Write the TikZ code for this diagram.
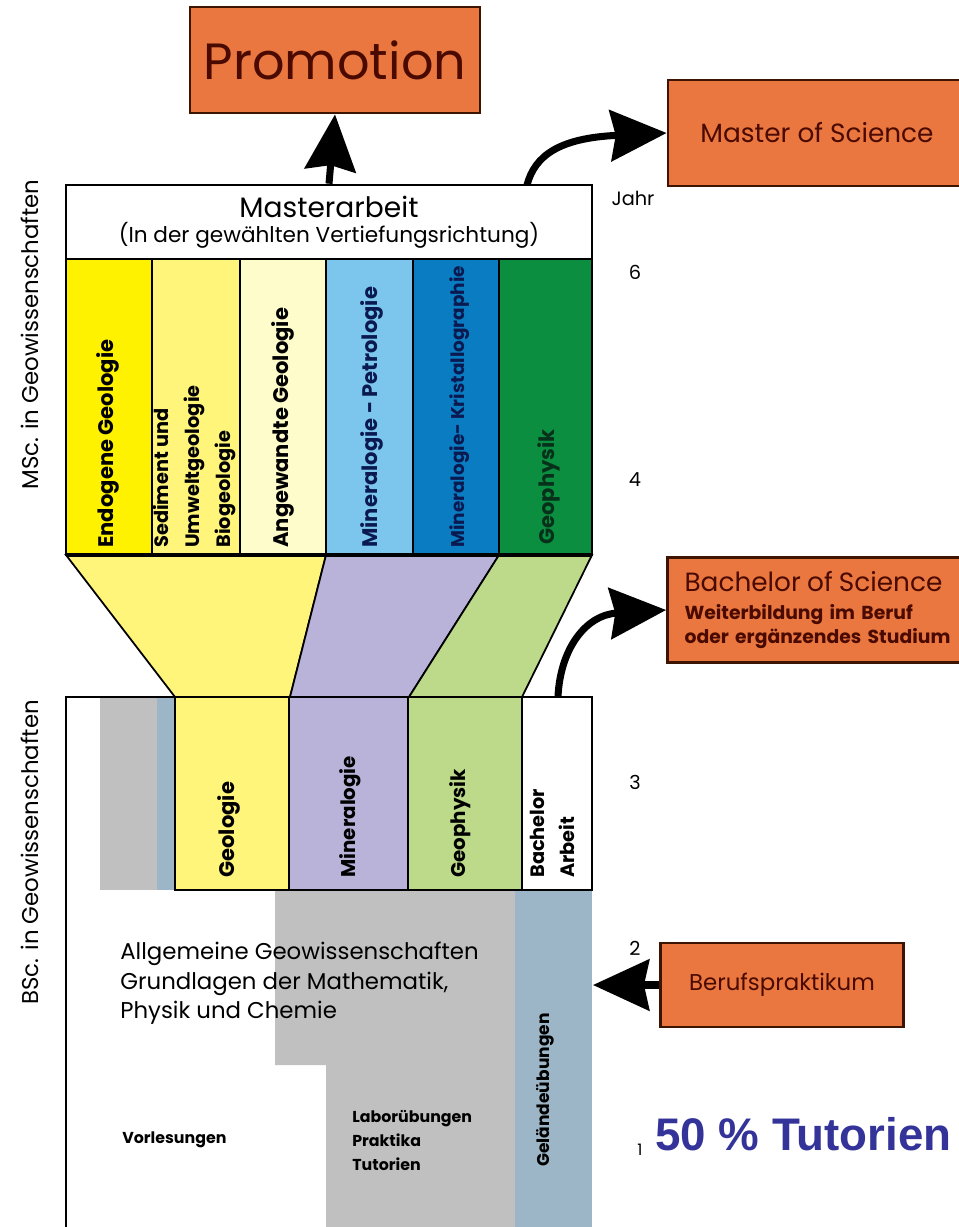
\documentclass[tikz,border=0pt]{standalone}
\usepackage{fontspec}
\setmainfont{Poppins}
\newfontfamily\tutfont{Liberation Sans}
\usetikzlibrary{positioning, arrows.meta, calc}

\definecolor{boxorange}{HTML}{E9773F}
\definecolor{boxborder}{HTML}{3C1400}
\definecolor{boxtext}{HTML}{4B0A00}
\definecolor{endoyellow}{HTML}{FFF200}
\definecolor{sedyellow}{HTML}{FFF57A}
\definecolor{paleyellow}{HTML}{FFFCCB}
\definecolor{lightblue}{HTML}{7CC6EE}
\definecolor{midblue}{HTML}{0A7CC1}
\definecolor{darkgreen}{HTML}{0B8E3F}
\definecolor{funnelpurple}{HTML}{BAB3D9}
\definecolor{funnelgreen}{HTML}{BDDA8A}
\definecolor{stripgray}{HTML}{C0C0C0}
\definecolor{stripblue}{HTML}{9DB6C7}
\definecolor{labelnavy}{HTML}{0A1A50}
\definecolor{labelgreen}{HTML}{06301A}
\definecolor{tutblue}{HTML}{333399}

\begin{document}
\begin{tikzpicture}[
    x=0.02cm, y=-0.02cm,
    orangebox/.style={draw=boxborder, fill=boxorange, line width=1.6pt, text=boxtext, inner sep=0pt},
    column/.style={draw=black, line width=1.2pt},
    funnel/.style={draw=black, line width=1pt},
    bigarrow/.style={line width=4pt, -{Stealth[length=32pt, width=29pt, inset=3pt]}},
    vlabel/.style={rotate=90, anchor=west, inner sep=0pt, font=\fontsize{12}{13}\selectfont\bfseries},
    vblock/.style={rotate=90, anchor=north west, inner sep=0pt, align=left},
    sidelabel/.style={rotate=90, anchor=west, inner sep=0pt, font=\fontsize{13}{14}\selectfont},
    yearlabel/.style={inner sep=0pt, font=\fontsize{11}{12}\selectfont},
    smalltext/.style={inner sep=0pt, font=\fontsize{9}{13.6}\selectfont\bfseries}
]

% Page
\fill[white] (0,0) rectangle (959,1227);
\clip (0,0) rectangle (959,1227);

% Degree boxes
\node[orangebox, minimum width=5.8cm, minimum height=2.12cm, font=\fontsize{29}{31}\selectfont] (promo) at (335,60) {Promotion};
\node[orangebox, minimum width=5.96cm, minimum height=2.12cm, font=\fontsize{15}{17}\selectfont] (msc) at (817,133) {Master of Science};
\node[orangebox, minimum height=2.1cm, text width=5.5cm, inner xsep=0.34cm, align=left,
      font=\fontsize{10.7}{14}\selectfont\bfseries] (bsc) at (822,610)
      {{\mdseries\fontsize{15}{17}\selectfont Bachelor of Science}\\[2pt] Weiterbildung im Beruf\\ oder ergänzendes Studium};
\node[orangebox, minimum width=4.86cm, minimum height=1.68cm, font=\fontsize{13}{15}\selectfont] (prakt) at (782,985) {Berufspraktikum};

% Funnel from bachelor to master
\filldraw[funnel, fill=sedyellow] (66,555) -- (326,555) -- (290,697) -- (175,697) -- cycle;
\filldraw[funnel, fill=funnelpurple] (326,555) -- (499,555) -- (409,697) -- (290,697) -- cycle;
\filldraw[funnel, fill=funnelgreen] (499,555) -- (592,555) -- (522,697) -- (409,697) -- cycle;

% Master columns
\filldraw[column, fill=endoyellow] (66,259) rectangle (152,555);
\filldraw[column, fill=sedyellow] (152,259) rectangle (240,555);
\filldraw[column, fill=paleyellow] (240,259) rectangle (326,555);
\filldraw[column, fill=lightblue] (326,259) rectangle (413,555);
\filldraw[column, fill=midblue] (413,259) rectangle (499,555);
\filldraw[column, fill=darkgreen] (499,259) rectangle (592,555);
\draw[line width=2.5pt] (66,555) -- (592,555);

% Masterarbeit
\node[draw, line width=1.5pt, fill=white, minimum width=10.52cm, minimum height=1.48cm, align=center] (marb) at (329,222)
      {{\fontsize{16}{18}\selectfont Masterarbeit}\\[2pt]{\fontsize{12.3}{14}\selectfont (In der gewählten Vertiefungsrichtung)}};

% Master column labels
\node[vlabel] (endo) at (108,548) {Endogene Geologie};
\node[vblock, font=\fontsize{11}{17.5}\selectfont\bfseries] (sedi) at (153,548) {Sediment und\\Umweltgeologie\\Biogeologie};
\node[vlabel] (angew) at (283,548) {Angewandte Geologie};
\node[vlabel, text=labelnavy] (minpet) at (372,548) {Mineralogie - Petrologie};
\node[vlabel, text=labelnavy, font=\fontsize{10.5}{12}\selectfont\bfseries] (minkri) at (460,548) {Mineralogie- Kristallographie};
\node[vlabel, text=labelgreen] (mgeo) at (549,545) {Geophysik};

% Bachelor block
\fill[stripgray] (275,890) -- (515,890) -- (515,1227) -- (326,1227) -- (326,1065) -- (275,1065) -- cycle;
\fill[stripblue] (515,890) rectangle (592,1227);
\fill[stripgray] (100,697) rectangle (157,890);
\fill[stripblue] (157,697) rectangle (175,890);
\filldraw[column, fill=sedyellow] (175,697) rectangle (289,890);
\filldraw[column, fill=funnelpurple] (289,697) rectangle (408,890);
\filldraw[column, fill=funnelgreen] (408,697) rectangle (522,890);
\filldraw[column, fill=white] (522,697) rectangle (592,890);
\draw[line width=1.5pt] (66,1230) -- (66,697) -- (592,697) -- (592,890);

% Bachelor labels
\node[vlabel] (bgeol) at (229,878) {Geologie};
\node[vlabel, font=\fontsize{11.3}{12}\selectfont\bfseries] (bmin) at (350,878) {Mineralogie};
\node[vlabel, font=\fontsize{11.3}{12}\selectfont\bfseries] (bgeo) at (460,878) {Geophysik};
\node[vblock, font=\fontsize{11}{17}\selectfont\bfseries] (barb) at (530,878) {Bachelor\\Arbeit};

\node[anchor=north west, inner sep=0pt, align=left, font=\fontsize{13}{16.7}\selectfont] (basics) at (120,942)
      {Allgemeine Geowissenschaften\\Grundlagen der Mathematik,\\Physik und Chemie};
\node[smalltext, anchor=west] (vorl) at (122,1140) {Vorlesungen};
\node[smalltext, anchor=north west, align=left] (labor) at (352,1110) {Laborübungen\\Praktika\\Tutorien};
\node[smalltext, rotate=90, anchor=west, font=\fontsize{9.7}{12}\selectfont\bfseries] (gelaende) at (545,1167) {Geländeübungen};

% Side labels
\node[sidelabel] (mscside) at (30,490) {MSc. in Geowissenschaften};
\node[sidelabel] (bscside) at (30,1005) {BSc. in Geowissenschaften};

% Years
\node[yearlabel] (jahr) at (633,198) {Jahr};
\node[yearlabel] (y6) at (635,272) {6};
\node[yearlabel] (y4) at (635,480) {4};
\node[yearlabel] (y3) at (635,782) {3};
\node[yearlabel] (y2) at (635,948) {2};
\node[yearlabel, font=\fontsize{9}{10}\selectfont] (y1) at (640,1150) {1};

% Tutorien
\node[anchor=base west, inner sep=0pt, text=tutblue, font=\tutfont\bfseries\fontsize{26}{30}\selectfont] (tut) at (655,1150) {50 \% Tutorien};

% Arrows
\coordinate (mscstart) at (527,185);
\coordinate (bscstart) at (558,697);
\coordinate (fieldedge) at (593,985);
\draw[bigarrow] (marb.north) -- (promo.south);
\draw[bigarrow] (mscstart) .. controls (535,155) and (560,138) .. (msc.west);
\draw[bigarrow] (bscstart) .. controls (560,650) and (585,615) .. (bsc.west);
\draw[bigarrow] (prakt.west) -- (fieldedge);

\end{tikzpicture}
\end{document}
